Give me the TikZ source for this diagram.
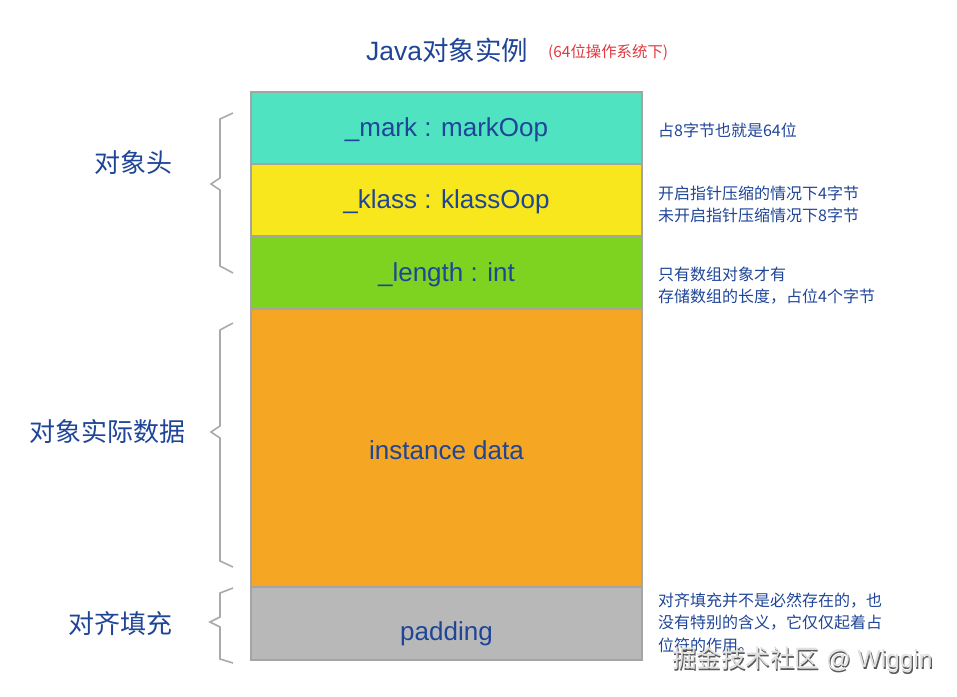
\documentclass[tikz,border=0pt]{standalone}
\usepackage{fontspec}
\setmainfont{Liberation Sans}
\newfontfamily\cjk{Noto Sans CJK SC}
\definecolor{txtblue}{HTML}{1F4597}
\definecolor{cmark}{HTML}{50E3C2}
\definecolor{cklass}{HTML}{F8E71C}
\definecolor{clength}{HTML}{7ED321}
\definecolor{cdata}{HTML}{F5A623}
\definecolor{cpad}{HTML}{B8B8B8}
\definecolor{cborder}{HTML}{A4A4A4}
\definecolor{cbrace}{HTML}{AAAAAA}
\definecolor{cred}{HTML}{E0393E}
\begin{document}
\begin{tikzpicture}[x=1pt,y=-1pt,
  rowbox/.style={draw=cborder,line width=1.5pt},
  boxtext/.style={text=txtblue,font=\fontsize{26}{30}\selectfont,yshift=-2pt},
  sidelabel/.style={text=txtblue,font=\cjk\fontsize{26}{30}\selectfont},
  note/.style={text=txtblue,font=\cjk\fontsize{16}{20}\selectfont,anchor=west,inner sep=0pt},
  bracestyle/.style={draw=cbrace,line width=1.6pt,line join=miter}]
\useasboundingbox (0,0) rectangle (957,696);
% boxes
\draw[rowbox,fill=cmark] (251,92) rectangle (642,164) node[midway,boxtext] (mark) {\_mark : markOop};
\draw[rowbox,fill=cklass] (251,164) rectangle (642,236) node[midway,boxtext] (klass) {\_klass : klassOop};
\draw[rowbox,fill=clength] (251,236) rectangle (642,309) node[midway,boxtext] (length) {\_length : int};
\draw[rowbox,fill=cdata] (251,309) rectangle (642,587) node[midway,boxtext] (data) {instance data};
\draw[rowbox,fill=cpad] (251,587) rectangle (642,660) node[midway,boxtext,yshift=-8pt] (pad) {padding};
% title
\node[text=txtblue,font=\fontsize{26.5}{30}\selectfont,anchor=west,inner sep=0pt] (title) at (366,50) {Java{\cjk 对象实例}};
\node[text=cred,font=\cjk\fontsize{15.4}{18}\selectfont,anchor=west,inner sep=0pt] (sub) at (548,52) {(64位操作系统下)};
% braces
\draw[bracestyle] (233,113) -- (220,119) -- (220,178) -- (211,184) -- (220,190) -- (220,266) -- (233,273);
\draw[bracestyle] (233,323) -- (220,330) -- (220,426) -- (211,432) -- (220,438) -- (220,561) -- (233,567);
\draw[bracestyle] (233,588) -- (220,593) -- (220,617) -- (210,622) -- (220,627) -- (220,659) -- (233,663);
% side labels
\node[sidelabel] (l1) at (133,163) {对象头};
\node[sidelabel] (l2) at (107,432) {对象实际数据};
\node[sidelabel] (l3) at (120,624) {对齐填充};
% notes
\node[note] (n1) at (658,130) {占8字节也就是64位};
\node[note] (n2) at (658,193) {开启指针压缩的情况下4字节};
\node[note] (n3) at (658,215) {未开启指针压缩情况下8字节};
\node[note] (n4) at (658,274) {只有数组对象才有};
\node[note] (n5) at (658,297) {存储数组的长度，占位4个字节};
\node[note] (n6) at (658,601) {对齐填充并不是必然存在的，也};
\node[note] (n7) at (658,623) {没有特别的含义，它仅仅起着占};
\node[note] (n8) at (658,645) {位符的作用。};
% watermark
\node[text=black!65,font=\fontsize{24.5}{28}\selectfont,anchor=west,inner sep=0pt] (wms) at (673.2,661.2) {{\cjk 掘金技术社区} @ Wiggin};
\node[text=white!88!black,font=\fontsize{24.5}{28}\selectfont,anchor=west,inner sep=0pt] (wm) at (672,660) {{\cjk 掘金技术社区} @ Wiggin};
\end{tikzpicture}
\end{document}
